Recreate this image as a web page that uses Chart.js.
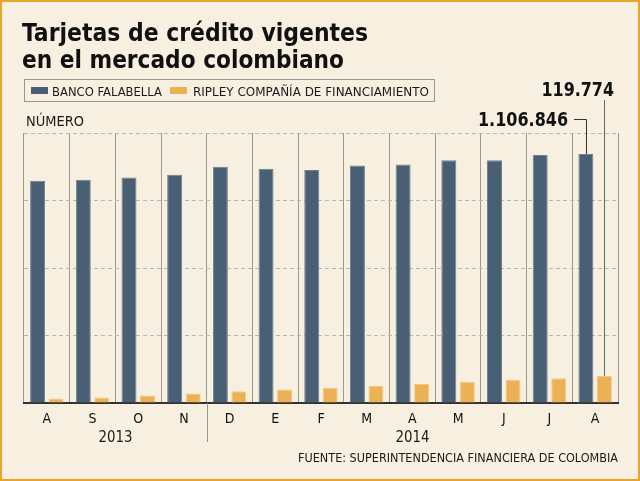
<!DOCTYPE html>
<html><head><meta charset="utf-8">
<script src="https://cdn.jsdelivr.net/npm/chart.js@4/dist/chart.umd.min.js"></script>
<style>
html,body{margin:0;padding:0;background:#F7F0E1;}
canvas{display:block;}
</style></head><body>
<canvas id="c" width="640" height="481"></canvas>
<script>
const months = ['A','S','O','N','D','E','F','M','A','M','J','J','A'];
const years = ['2013','2014'];
const yearFirstIdx = [0, 4];
const yearLastIdx = [3, 12];
const falabella = [987500, 992000, 1002000, 1014000, 1050000, 1041000, 1036000, 1055500, 1060000, 1079000, 1079000, 1102000, 1106846];
const ripley = [20000, 24000, 33000, 42000, 52000, 60000, 67000, 76000, 85000, 95000, 103000, 110000, 119774];
const seriesNames = ['BANCO FALABELLA', 'RIPLEY COMPAÑÍA DE FINANCIAMIENTO'];
const titleLines = ['Tarjetas de crédito vigentes', 'en el mercado colombiano'];
const unitLabel = 'NÚMERO';
const sourceText = 'FUENTE: SUPERINTENDENCIA FINANCIERA DE COLOMBIA';
const yMin = 0, yMax = 1200000, yStep = 300000;

const FAM = '"DejaVu Sans Condensed", "DejaVu Sans", sans-serif';
const BLUE = '#485F74', ORANGE = '#ECB155', BG = '#F7F0E1';

function fmt(v) { return String(v).replace(/\B(?=(\d{3})+(?!\d))/g, '.'); }

function drawFit(ctx, text, x, y, font, targetW, align, color) {
  ctx.save();
  ctx.font = font;
  ctx.fillStyle = color || '#111';
  ctx.textBaseline = 'alphabetic';
  const w = ctx.measureText(text).width;
  const s = targetW / w;
  let left = align === 'right' ? x - targetW : (align === 'center' ? x - targetW / 2 : x);
  ctx.translate(left, y);
  ctx.scale(s, 1);
  ctx.textAlign = 'left';
  ctx.fillText(text, 0, 0);
  ctx.restore();
}

const decor = {
  id: 'decor',
  beforeDraw(chart) {
    const ctx = chart.ctx;
    ctx.save();
    ctx.fillStyle = BG;
    ctx.fillRect(0, 0, chart.width, chart.height);
    ctx.strokeStyle = '#EBA32C';
    ctx.lineWidth = 2;
    ctx.strokeRect(1, 1, chart.width - 2, chart.height - 2);
    ctx.restore();
  },
  afterDraw(chart) {
    const ctx = chart.ctx;
    const x = chart.scales.x, area = chart.chartArea;
    // title
    drawFit(ctx, titleLines[0], 22, 41, 'bold 25px ' + FAM, 346, 'left', '#111');
    drawFit(ctx, titleLines[1], 22, 68, 'bold 25px ' + FAM, 322, 'left', '#111');
    // legend box
    ctx.save();
    ctx.strokeStyle = '#9a9690';
    ctx.lineWidth = 1;
    ctx.strokeRect(24.5, 79.5, 410, 22);
    const ds = chart.data.datasets;
    ctx.fillStyle = ds[0].backgroundColor;
    ctx.fillRect(31, 87, 17, 7);
    ctx.fillStyle = ds[1].backgroundColor;
    ctx.fillRect(170, 87, 17, 7);
    ctx.restore();
    drawFit(ctx, ds[0].label, 52, 95.5, '12px ' + FAM, 110, 'left', '#1a1a1a');
    drawFit(ctx, ds[1].label, 193, 95.5, '12px ' + FAM, 236, 'left', '#1a1a1a');
    // unit label
    drawFit(ctx, unitLabel, 26, 126, '14px ' + FAM, 58, 'left', '#1a1a1a');
    // year separators and labels
    ctx.save();
    ctx.strokeStyle = '#9a958d';
    ctx.lineWidth = 1;
    for (let i = 1; i < years.length; i++) {
      const bx = Math.round((x.getPixelForValue(yearLastIdx[i - 1]) + x.getPixelForValue(yearFirstIdx[i])) / 2) + 0.5;
      ctx.beginPath();
      ctx.moveTo(bx, area.bottom);
      ctx.lineTo(bx, 442);
      ctx.stroke();
    }
    ctx.restore();
    for (let i = 0; i < years.length; i++) {
      const cx = (x.getPixelForValue(yearFirstIdx[i]) + x.getPixelForValue(yearLastIdx[i])) / 2;
      drawFit(ctx, years[i], cx, 441.5, '15px ' + FAM, 34, 'center', '#1a1a1a');
    }
    // callouts
    const b0 = chart.getDatasetMeta(0).data[falabella.length - 1];
    const b1 = chart.getDatasetMeta(1).data[ripley.length - 1];
    ctx.save();
    ctx.lineWidth = 1;
    ctx.strokeStyle = '#333';
    ctx.beginPath();
    ctx.moveTo(574, 119.5);
    ctx.lineTo(Math.round(b0.x) + 0.5, 119.5);
    ctx.lineTo(Math.round(b0.x) + 0.5, b0.y);
    ctx.stroke();
    ctx.strokeStyle = '#666';
    ctx.beginPath();
    ctx.moveTo(Math.round(b1.x) + 0.5, 100);
    ctx.lineTo(Math.round(b1.x) + 0.5, b1.y);
    ctx.stroke();
    ctx.restore();
    drawFit(ctx, fmt(falabella[falabella.length - 1]), 568, 126, 'bold 19px ' + FAM, 90, 'right', '#111');
    drawFit(ctx, fmt(ripley[ripley.length - 1]), 614, 95.7, 'bold 19px ' + FAM, 72.5, 'right', '#111');
    // source
    drawFit(ctx, sourceText, 618, 462, '12px ' + FAM, 320, 'right', '#1a1a1a');
  }
};

new Chart(document.getElementById('c'), {
  type: 'bar',
  data: {
    labels: months,
    datasets: [
      { label: seriesNames[0], data: falabella, backgroundColor: BLUE, borderColor: '#6E8091', borderWidth: 1,
        categoryPercentage: 0.81, barPercentage: 0.81 },
      { label: seriesNames[1], data: ripley, backgroundColor: ORANGE, borderColor: '#F3C885', borderWidth: 1,
        categoryPercentage: 0.81, barPercentage: 0.81 }
    ]
  },
  options: {
    responsive: false,
    animation: false,
    devicePixelRatio: 1,
    layout: { padding: { left: 24, right: 22, top: 133, bottom: 0 } },
    plugins: { legend: { display: false }, tooltip: { enabled: false }, title: { display: false } },
    scales: {
      x: {
        grid: { color: '#9c978f', lineWidth: 1, drawTicks: false, offset: true },
        border: { display: true, color: '#333333', width: 2 },
        ticks: { font: { family: FAM, size: 14 }, color: '#111', padding: 8, maxRotation: 0, autoSkip: false },
        afterFit(s) { s.height = 78; }
      },
      y: {
        min: yMin, max: yMax,
        ticks: { display: false, stepSize: yStep },
        grid: { color: '#bcb8b0', lineWidth: 1, drawTicks: false },
        border: { display: false, dash: [4, 3] },
        afterFit(s) { s.width = 0; }
      }
    }
  },
  plugins: [decor]
});
</script>
</body></html>
